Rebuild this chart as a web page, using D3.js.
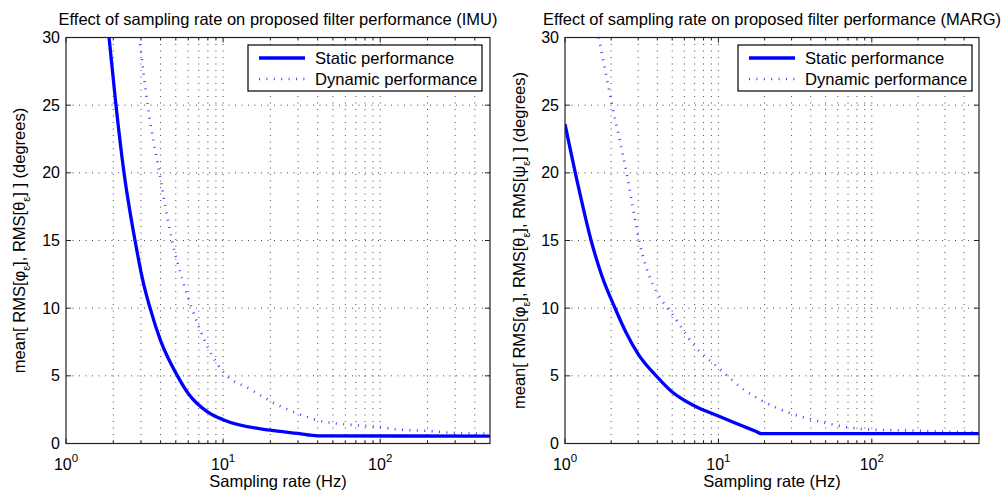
<!DOCTYPE html>
<html>
<head>
<meta charset="utf-8">
<script src="https://cdn.jsdelivr.net/npm/d3@7.9.0/dist/d3.min.js"></script>
<style>
  body { margin: 0; background: #fff; }
  svg { display: block; font-family: "Liberation Sans", Arial, sans-serif; }
</style>
</head>
<body>
<div id="chart"></div>
<script>
// Values (Hz, degrees)
const imuStaticHz   = [1.8, 1.88, 2.08, 2.34, 2.75, 3.09, 3.43, 4, 5.12, 6, 8, 10, 20, 30, 40, 500];
const imuStaticDeg  = [32, 30, 25, 20, 15, 12, 10, 7.6, 5, 3.7, 2.32, 1.76, 0.98, 0.74, 0.56, 0.55];
const imuDynamicHz  = [2.96, 3.31, 3.93, 4.73, 5.54, 6.32, 8, 10, 15, 20, 30, 40, 50, 70, 100, 125, 200, 300, 500];
const imuDynamicDeg = [29.5, 25, 20, 15, 12, 10, 7.1, 5.3, 4.0, 3.13, 2.2, 1.71, 1.51, 1.35, 1.22, 1.05, 0.93, 0.78, 0.73];

const margStaticHz   = [1, 1.21, 1.48, 1.75, 2.12, 2.5, 3, 4, 5, 7, 10, 14, 17.5, 19, 500];
const margStaticDeg  = [23.6, 19.2, 15, 12.3, 10, 8.2, 6.6, 4.9, 3.8, 2.77, 2.03, 1.35, 0.9, 0.73, 0.73];
const margDynamicHz  = [1.66, 2.03, 2.52, 3.04, 4.65, 5, 7, 10, 15, 20, 30, 42.6, 50, 81, 100, 200, 300, 500];
const margDynamicDeg = [30, 25, 20, 15, 10, 9.55, 7.2, 5.6, 3.9, 3.06, 2.2, 1.71, 1.52, 1.1, 1.02, 0.95, 0.88, 0.82];

const xDomain = [1, 500];
const yDomain = [0, 30];
const yTicks = [0, 5, 10, 15, 20, 25, 30];
const xMajor = [1, 10, 100];
const xMinor = [2, 3, 4, 5, 6, 7, 8, 9, 20, 30, 40, 50, 60, 70, 80, 90, 200, 300, 400];
const legendLabels = ["Static performance", "Dynamic performance"];
const xLabel = "Sampling rate (Hz)";

const panels = [
  {
    title: "Effect of sampling rate on proposed filter performance (IMU)",
    ylabel: [["mean[ RMS[\u03c6", 0], ["\u03b5", 1], ["], RMS[\u03b8", -1], ["\u03b5", 1], ["] ] (degrees)", -1]],
    left: 66, right: 490, labelX: 25,
    stat: [imuStaticHz, imuStaticDeg], dyn: [imuDynamicHz, imuDynamicDeg],
    legend: {x: 248, y: 45, w: 234, h: 46}
  },
  {
    title: "Effect of sampling rate on proposed filter performance (MARG)",
    ylabel: [["mean[ RMS[\u03c6", 0], ["\u03b5", 1], ["], RMS[\u03b8", -1], ["\u03b5", 1], ["], RMS[\u03c8", -1], ["\u03b5", 1], ["] ] (degrees)", -1]],
    left: 565, right: 979, labelX: 525,
    stat: [margStaticHz, margStaticDeg], dyn: [margDynamicHz, margDynamicDeg],
    legend: {x: 738, y: 45, w: 234, h: 46}
  }
];

const W = 1004, H = 491, plotTop = 37.5, plotBottom = 443.5;
const blue = "#0000ff";
const dotDash = "1,6.4";

const svg = d3.select("#chart").append("svg")
  .attr("width", W).attr("height", H);

panels.forEach((p, i) => {
  const x = d3.scaleLog().domain(xDomain).range([p.left, p.right]);
  const y = d3.scaleLinear().domain(yDomain).range([plotBottom, plotTop]);
  const g = svg.append("g");

  // grid
  g.selectAll(".vgrid")
    .data(xMajor.concat(xMinor).filter(d => d > 1))
    .join("line")
      .attr("x1", d => x(d)).attr("x2", d => x(d))
      .attr("y1", plotTop).attr("y2", plotBottom)
      .attr("stroke", "#333").attr("stroke-width", 0.9)
      .attr("stroke-dasharray", "1,5.5");
  g.selectAll(".hgrid")
    .data(yTicks.filter(d => d > 0 && d < 30))
    .join("line")
      .attr("x1", p.left).attr("x2", p.right)
      .attr("y1", d => y(d)).attr("y2", d => y(d))
      .attr("stroke", "#333").attr("stroke-width", 0.9)
      .attr("stroke-dasharray", "1,5.5");

  // ticks on all four sides, pointing inward
  const tickPath = d3.path();
  yTicks.forEach(v => {
    tickPath.moveTo(p.left, y(v)); tickPath.lineTo(p.left + 5, y(v));
    tickPath.moveTo(p.right, y(v)); tickPath.lineTo(p.right - 5, y(v));
  });
  xMajor.forEach(v => {
    tickPath.moveTo(x(v), plotBottom); tickPath.lineTo(x(v), plotBottom - 5);
    tickPath.moveTo(x(v), plotTop); tickPath.lineTo(x(v), plotTop + 5);
  });
  xMinor.forEach(v => {
    tickPath.moveTo(x(v), plotBottom); tickPath.lineTo(x(v), plotBottom - 3);
    tickPath.moveTo(x(v), plotTop); tickPath.lineTo(x(v), plotTop + 3);
  });
  g.append("path").attr("d", tickPath.toString())
    .attr("stroke", "#222").attr("stroke-width", 1).attr("fill", "none");

  // curves
  const clipId = "clip" + i;
  svg.append("clipPath").attr("id", clipId)
    .append("rect").attr("x", p.left).attr("y", plotTop)
    .attr("width", p.right - p.left).attr("height", plotBottom - plotTop);

  const line = d3.line()
    .x(d => x(d[0])).y(d => y(d[1]))
    .curve(d3.curveMonotoneX);

  g.append("path")
    .datum(d3.zip(p.dyn[0], p.dyn[1]))
    .attr("clip-path", `url(#${clipId})`)
    .attr("d", line)
    .attr("fill", "none").attr("stroke", blue).attr("stroke-opacity", 0.75)
    .attr("stroke-width", 2.6).attr("stroke-dasharray", dotDash);
  g.append("path")
    .datum(d3.zip(p.stat[0], p.stat[1]))
    .attr("clip-path", `url(#${clipId})`)
    .attr("d", line)
    .attr("fill", "none").attr("stroke", blue)
    .attr("stroke-width", 3.3).attr("stroke-linejoin", "round");

  // frame
  g.append("rect")
    .attr("x", p.left).attr("y", plotTop)
    .attr("width", p.right - p.left).attr("height", plotBottom - plotTop)
    .attr("fill", "none").attr("stroke", "#222").attr("stroke-width", 1.2);

  // tick labels
  g.selectAll(".ylab")
    .data(yTicks)
    .join("text")
      .attr("x", p.left - 6).attr("y", d => y(d)).attr("dy", "0.35em")
      .attr("text-anchor", "end").attr("font-size", 16)
      .text(d => d);
  const xl = g.selectAll(".xlab")
    .data(xMajor)
    .join("text")
      .attr("x", d => x(d)).attr("y", 470)
      .attr("text-anchor", "middle").attr("font-size", 16);
  xl.append("tspan").text("10");
  xl.append("tspan").attr("font-size", 11.5).attr("dy", -8)
    .text(d => Math.round(Math.log10(d)));

  // title and axis labels
  g.append("text")
    .attr("x", (p.left + p.right) / 2).attr("y", 25)
    .attr("text-anchor", "middle").attr("font-size", 16.5)
    .text(p.title);
  g.append("text")
    .attr("x", (p.left + p.right) / 2).attr("y", 487)
    .attr("text-anchor", "middle").attr("font-size", 16.5)
    .text(xLabel);
  const yl = g.append("text")
    .attr("transform", `translate(${p.labelX},${(plotTop + plotBottom) / 2}) rotate(-90)`)
    .attr("text-anchor", "middle").attr("font-size", 16.5);
  p.ylabel.forEach(([s, shift]) => {
    yl.append("tspan")
      .attr("font-size", shift === 1 ? 11 : 16.5)
      .attr("dy", shift * 5)
      .text(s);
  });

  // legend
  const L = p.legend;
  const lg = g.append("g");
  lg.append("rect")
    .attr("x", L.x).attr("y", L.y).attr("width", L.w).attr("height", L.h)
    .attr("fill", "#fff").attr("stroke", "#000").attr("stroke-width", 1.2);
  legendLabels.forEach((lab, k) => {
    const ly = L.y + 13 + k * 21;
    lg.append("line")
      .attr("x1", L.x + 11).attr("x2", L.x + 57)
      .attr("y1", ly).attr("y2", ly)
      .attr("stroke", blue)
      .attr("stroke-opacity", k === 0 ? 1 : 0.75)
      .attr("stroke-width", k === 0 ? 3.3 : 2.6)
      .attr("stroke-dasharray", k === 0 ? null : dotDash);
    lg.append("text")
      .attr("x", L.x + 67).attr("y", ly + 6)
      .attr("font-size", 16.6)
      .text(lab);
  });
});
</script>
</body>
</html>
